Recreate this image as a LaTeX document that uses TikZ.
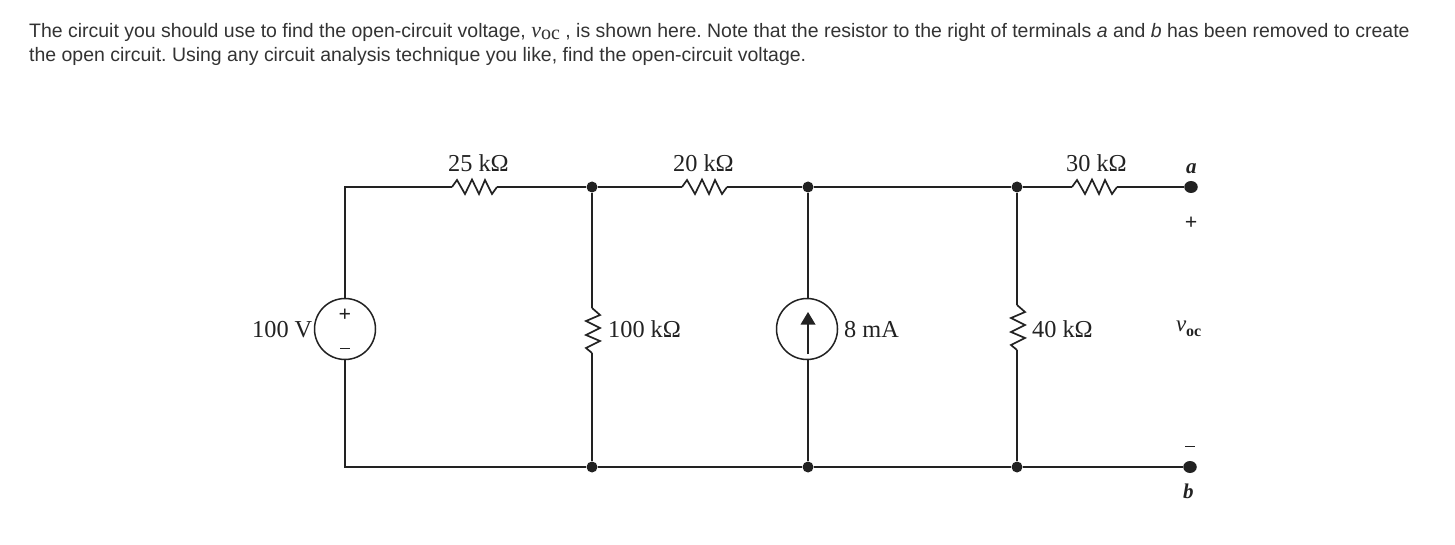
\documentclass[tikz,border=0pt]{standalone}
\usepackage{fontspec}
\setmainfont{Liberation Serif}
\newfontfamily\uifont{Liberation Sans}
\frenchspacing
\definecolor{ink}{HTML}{222222}
\definecolor{txt}{HTML}{333333}
\tikzset{
  x=1pt,y=-1pt,
  wire/.style={draw=ink,line width=1.8pt,line join=miter},
  zig/.style={draw=ink,line width=1.7pt,line join=miter},
  junction/.style={circle,fill=ink,inner sep=0pt,minimum size=11pt},
  terminal/.style={ellipse,fill=ink,inner sep=0pt,minimum width=13.5pt,minimum height=12pt},
  srcbody/.style={circle,draw=ink,line width=1.5pt,inner sep=0pt,minimum size=61pt},
  lab/.style={anchor=base west,inner sep=0pt,text=ink,font=\fontsize{24.3}{25}\selectfont},
  para/.style={anchor=base west,inner sep=0pt,text=txt,font=\uifont\fontsize{19.47}{20}\selectfont},
  sign/.style={inner sep=0pt,text=ink,font=\bfseries\fontsize{22}{22}\selectfont},
}
\usetikzlibrary{shapes.geometric}
\newcommand{\hzig}[2]{\draw[zig] (#1) -- ++(5,-7) -- ++(8,14) -- ++(7,-14.5) -- ++(7,14.5) -- ++(6,-14) -- ++(7,14) -- ++(5,-7) -- (#2);}
\newcommand{\vzig}[2]{\draw[zig] (#1) -- ++(8,7) -- ++(-14,6) -- ++(14,7) -- ++(-14,7) -- ++(14,6) -- ++(-14,7) -- ++(6,5) -- (#2);}
\begin{document}
\begin{tikzpicture}
\useasboundingbox (0,0) rectangle (1455,545);
\fill[white] (0,0) rectangle (1455,545);
% question text
\node[para] (l1) at (29,38) {The circuit you should use to find the open-circuit voltage, {\rmfamily\itshape\fontsize{22}{22}\selectfont v}{\rmfamily\fontsize{20}{20}\selectfont\raisebox{-2pt}{oc}} , is shown here. Note that the resistor to the right of terminals \emph{a} and \emph{b} has been removed to create};
\node[para] (l2) at (29,62) {the open circuit. Using any circuit analysis technique you like, find the open-circuit voltage.};
% corners and junctions
\coordinate (tl) at (345,187);
\coordinate (bl) at (345,467);
\node[junction] (n1) at (592,187) {};
\node[junction] (n2) at (808,187) {};
\node[junction] (n3) at (1017,187) {};
\node[terminal] (a) at (1191,187) {};
\node[junction] (m1) at (592,467) {};
\node[junction] (m2) at (808,467) {};
\node[junction] (m3) at (1017,467) {};
\node[terminal] (b) at (1190,467) {};
% sources
\node[srcbody] (vs) at (345,329) {};
\node[srcbody] (is) at (807,329) {};
% resistor end points
\coordinate (r25a) at (452,187);
\coordinate (r25b) at (497,187);
\coordinate (r20a) at (682,187);
\coordinate (r20b) at (727,187);
\coordinate (r30a) at (1072,187);
\coordinate (r30b) at (1117,187);
\coordinate (r100a) at (592,308);
\coordinate (r100b) at (592,353);
\coordinate (r40a) at (1017,305);
\coordinate (r40b) at (1017,350);
% wires
\draw[wire] (vs.north) -- (tl) -- (r25a);
\draw[wire] (r25b) -- (n1);
\draw[wire] (n1) -- (r20a);
\draw[wire] (r20b) -- (n2);
\draw[wire] (n2) -- (n3);
\draw[wire] (n3) -- (r30a);
\draw[wire] (r30b) -- (a);
\draw[wire] (vs.south) -- (bl) -- (m1);
\draw[wire] (m1) -- (m2);
\draw[wire] (m2) -- (m3);
\draw[wire] (m3) -- (b);
\draw[wire] (n1) -- (r100a);
\draw[wire] (r100b) -- (m1);
\draw[wire] (n2) -- (n2 |- is.north);
\draw[wire] (n2 |- is.south) -- (m2);
\draw[wire] (n3) -- (r40a);
\draw[wire] (r40b) -- (m3);
% resistors
\hzig{r25a}{r25b}
\hzig{r20a}{r20b}
\hzig{r30a}{r30b}
\vzig{r100a}{r100b}
\vzig{r40a}{r40b}
% arrow in current source
\coordinate (arrowfoot) at (808,354);
\coordinate (arrowneck) at (808,323);
\draw[draw=ink,line width=1.3pt] (arrowfoot) -- (arrowneck);
\fill[ink] (808,312) -- (815.5,324.5) -- (800.5,324.5) -- cycle;
% labels
\node[lab] (t25) at (448,172) {25 kΩ};
\node[lab] (t20) at (673,172) {20 kΩ};
\node[lab] (t30) at (1066,172) {30 kΩ};
\node[lab] (t100v) at (252,337) {100 V};
\node[lab] (t100k) at (608,337) {100 kΩ};
\node[lab] (t8) at (844,337) {8 mA};
\node[lab] (t40) at (1032,337) {40 kΩ};
\node[lab,font=\bfseries\itshape\fontsize{21}{22}\selectfont] (ta) at (1186,174) {a};
\node[lab,font=\bfseries\itshape\fontsize{21}{22}\selectfont] (tb) at (1183,498) {b};
\node[lab,font=\itshape\fontsize{23}{24}\selectfont] (tv) at (1176,331) {v};
\node[lab,font=\bfseries\fontsize{16}{16}\selectfont] (toc) at (1186,336) {oc};
\node[sign] (vp) at (345,315.5) {+};
\node[sign] (vm) at (345,348.5) {\rule{10pt}{1.6pt}};
\node[sign] (tp) at (1191,223) {+};
\node[sign] (tm) at (1190,446.5) {\rule{10pt}{1.6pt}};
\end{tikzpicture}
\end{document}
